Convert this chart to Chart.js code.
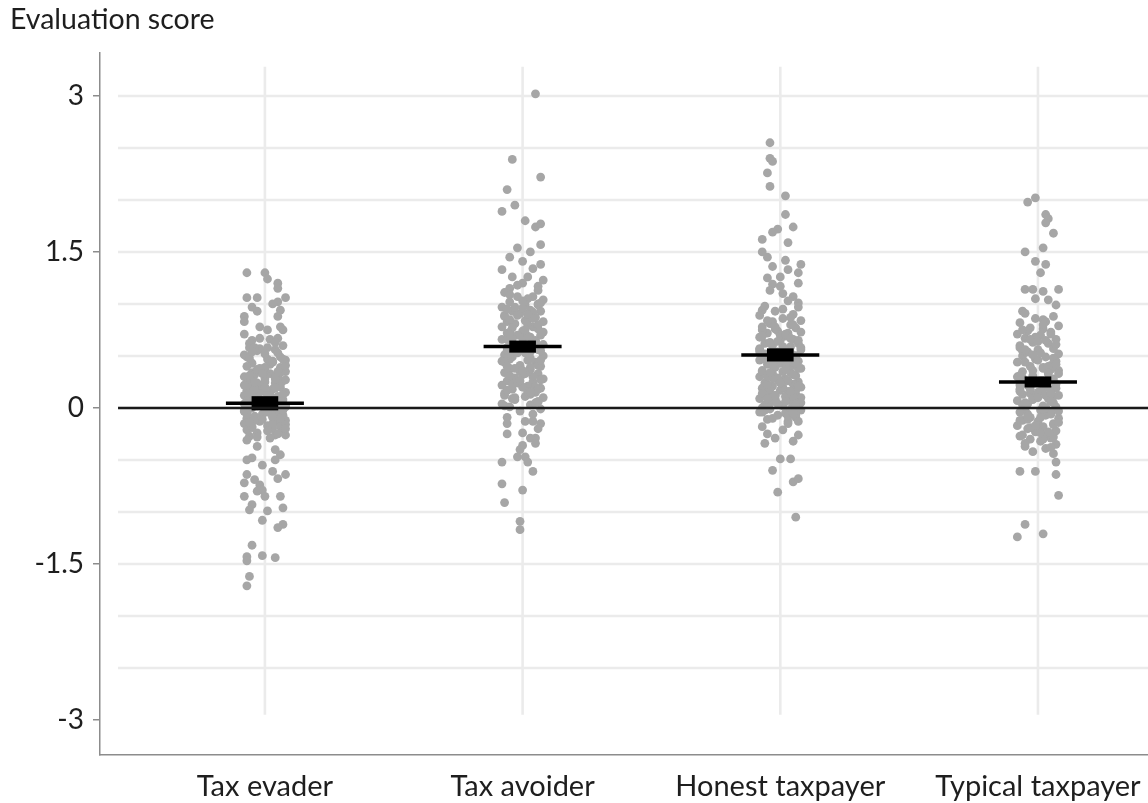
<!DOCTYPE html>
<html>
<head>
<meta charset="utf-8">
<script src="https://cdn.jsdelivr.net/npm/chart.js@4.4.1/dist/chart.umd.min.js"></script>
<style>
  html, body { margin: 0; padding: 0; background: #fff; }
  #wrap { width: 1148px; height: 803px; }
</style>
</head>
<body>
<div id="wrap"><canvas id="scoreChart"></canvas></div>
<script>
const categories = ["Tax evader", "Tax avoider", "Honest taxpayer", "Typical taxpayer"];
const yTicks = [-3, -1.5, 0, 1.5, 3];
const gridValues = [-2.5, -2, -1.5, -1, -0.5, 0, 0.5, 1, 1.5, 2, 2.5, 3];

// group means and standard errors (black markers)
const meanScores = [0.045, 0.59, 0.51, 0.25];
const seScores = [0.065, 0.055, 0.06, 0.05];

// individual evaluation scores, with horizontal jitter (in category units)
const evaderScores = [
  1.30, 1.30, 1.24, 1.20, 1.15, 1.06, 1.06, 1.06, 1.02, 1.00,
  0.97, 0.93, 0.94, 0.88, 0.83, 0.88, 0.78, 0.75, 0.78, 0.75,
  0.67, 0.67, 0.65, 0.58, 0.58, 0.56, 0.49, 0.49,
  0.71, 0.66, 0.62, 0.60, 0.55, 0.53, 0.51, 0.47, 0.46, 0.43,
  0.44, 0.40, 0.39, 0.38, 0.35, 0.34, 0.33, 0.30, 0.31, 0.28,
  0.27, 0.26, 0.24, 0.24, 0.22, 0.20, 0.19, 0.18, 0.17, 0.15,
  0.14, 0.13, 0.12, 0.11, 0.09, 0.08, 0.08, 0.06, 0.05, 0.04,
  0.03, 0.02, 0.01, -0.01, -0.02, -0.03, -0.04, -0.06, -0.07, -0.08,
  -0.09, -0.10, -0.12, -0.13, -0.14, -0.15, -0.17, -0.18, -0.19, -0.20,
  -0.21, -0.23, -0.24, -0.26, -0.27, -0.29, 0.36, 0.29, 0.21, 0.10,
  0.16, 0.00, -0.11, 0.42, 0.32, 0.23, 0.07, -0.05, -0.16, 0.57,
  -0.26, -0.31, -0.37, -0.40, -0.45, -0.48, -0.50, -0.50, -0.55, -0.61,
  -0.64, -0.64, -0.68, -0.69, -0.72, -0.74, -0.79, -0.80, -0.85, -0.85,
  -0.85, -0.93, -0.98, -0.99, -0.96, -1.08, -1.12, -1.15, -1.32, -1.43,
  -1.47, -1.42, -1.44, -1.62, -1.71,
  0.63, 0.58, 0.52, 0.48, 0.45, 0.41, 0.37, 0.34, 0.31, 0.27,
  0.25, 0.22, 0.19, 0.16, 0.13, 0.11, 0.09, 0.06, 0.03, 0.01,
  -0.01, -0.04, -0.06, -0.09, -0.12, -0.15, -0.18, -0.22, -0.25, -0.28,
  0.54, 0.39, 0.28, 0.18, 0.12, 0.04, -0.02, -0.08, -0.14, -0.20,
  0.47, 0.33, 0.20, 0.14, 0.07, 0.02, -0.03, -0.10, 0.25, 0.35
];
const evaderJitter = [
  -0.07, 0.00, 0.01, 0.05, 0.05, -0.07, -0.03, 0.08, 0.05, 0.03,
  -0.05, -0.03, 0.06, -0.08, -0.08, 0.05, -0.02, 0.01, 0.06, 0.07,
  0.05, -0.02, -0.05, -0.06, 0.01, 0.04, 0.06, -0.07,
  -0.08, 0.02, -0.06, 0.07, -0.03, 0.05, -0.08, 0.01, 0.08, -0.05,
  0.03, -0.07, 0.06, -0.02, 0.08, -0.05, 0.02, -0.08, 0.05, 0.00,
  -0.06, 0.07, -0.03, 0.04, -0.08, 0.06, -0.01, 0.03, -0.07, 0.08,
  -0.04, 0.02, -0.08, 0.05, -0.02, 0.07, -0.06, 0.01, 0.04, -0.08,
  0.06, -0.03, 0.08, -0.06, 0.02, -0.08, 0.05, -0.01, 0.07, -0.04,
  0.03, -0.07, 0.08, -0.02, 0.05, -0.08, 0.01, 0.06, -0.05, 0.03,
  -0.07, 0.07, -0.03, 0.04, -0.06, 0.02, 0.00, 0.04, -0.01, -0.03,
  0.00, -0.05, -0.01, 0.02, -0.04, 0.06, -0.07, 0.04, 0.08, -0.02,
  0.08, -0.07, -0.03, 0.04, 0.06, -0.05, -0.07, 0.04, -0.01, 0.03,
  0.08, -0.07, 0.05, -0.04, -0.08, -0.02, -0.01, -0.03, 0.00, -0.08,
  0.06, -0.05, -0.06, 0.01, 0.07, -0.01, 0.07, 0.05, -0.05, -0.07,
  -0.07, -0.01, 0.04, -0.06, -0.07,
  0.04, -0.04, 0.00, -0.06, 0.03, 0.08, -0.03, 0.06, -0.06, 0.08,
  0.00, -0.05, 0.04, -0.02, 0.07, -0.06, 0.03, -0.03, 0.06, -0.05,
  0.05, 0.01, -0.07, 0.06, -0.04, 0.03, -0.05, 0.01, 0.05, -0.03,
  -0.05, 0.00, 0.04, -0.04, 0.01, -0.07, 0.07, 0.03, -0.06, 0.08,
  0.07, -0.01, 0.00, -0.06, -0.03, 0.08, -0.08, 0.06, -0.04, 0.05
];

const avoiderScores = [
  3.02, 2.39, 2.22, 2.10, 1.95, 1.89, 1.80, 1.74, 1.77, 1.57,
  1.54, 1.50, 1.45, 1.41, 1.38, 1.33, 1.34, 1.26, 1.23, 1.26,
  1.20, 1.15, 1.17,
  1.11, 1.07, 1.07, 1.04, 1.02, 0.99, 0.99, 0.97, 0.94, 0.93,
  0.93, 0.91, 0.88, 0.87, 0.86, 0.83, 0.83, 0.81, 0.78, 0.78,
  0.76, 0.74, 0.73, 0.70, 0.70, 0.68, 0.66, 0.65, 0.63, 0.61,
  0.61, 0.58, 0.56, 0.56, 0.54, 0.51, 0.50, 0.49, 0.46, 0.45,
  0.44, 0.41, 0.40, 0.38, 0.37, 0.34, 0.33, 0.32, 0.29, 0.28,
  0.26, 0.25, 0.22, 0.21, 0.19, 0.18, 0.15, 0.14, 0.11, 0.10,
  0.08, 0.06, 0.04, 0.03, 0.01, -0.01, -0.03, -0.06, -0.09, 0.96,
  0.89, 0.80, 0.72, 0.64, 0.59, 0.53, 0.47, 0.42, 0.35, 0.30,
  0.23, 0.16, 0.12, 0.05, 1.00, 0.85, 0.67, 0.55, 0.39, 0.20,
  -0.15, -0.13, -0.13, -0.15, -0.20, -0.25, -0.24, -0.29, -0.29, -0.34,
  -0.36, -0.40, -0.47, -0.47, -0.52, -0.52, -0.61, -0.73, -0.79, -0.91,
  -1.09, -1.17,
  1.18, 1.13, 1.09, 1.05, 1.01, 0.97, 0.92, 0.89, 0.84, 0.80,
  0.77, 0.73, 0.69, 0.66, 0.62, 0.58, 0.55, 0.52, 0.48, 0.44,
  0.41, 0.38, 0.35, 0.31, 0.27, 0.24, 0.20, 0.17, 0.13, 0.09,
  0.06, 0.02, 1.03, 0.95, 0.86, 0.75, 0.67, 0.60, 0.53, 0.46,
  0.40, 0.33, 0.26, 0.18, 0.10, 0.90, 0.71, 0.57, 0.36, 0.15
];
const avoiderJitter = [
  0.05, -0.04, 0.07, -0.06, -0.03, -0.08, 0.01, 0.05, 0.07, 0.07,
  -0.02, 0.03, -0.05, 0.00, 0.07, -0.08, 0.04, -0.04, 0.08, 0.02,
  0.00, -0.05, 0.06,
  -0.07, 0.04, -0.02, 0.08, -0.05, 0.01, 0.06, -0.08, 0.03, -0.04,
  0.07, -0.01, -0.07, 0.05, 0.02, -0.06, 0.08, -0.03, 0.04, -0.08,
  0.06, 0.00, -0.05, 0.07, -0.02, 0.03, -0.08, 0.05, -0.04, 0.08,
  0.01, -0.06, 0.06, -0.02, 0.03, -0.07, 0.08, -0.04, 0.02, -0.08,
  0.05, -0.01, 0.07, -0.05, 0.03, -0.07, 0.06, 0.00, -0.03, 0.08,
  -0.06, 0.04, -0.08, 0.02, 0.07, -0.04, 0.05, -0.07, 0.01, 0.08,
  -0.03, 0.06, -0.08, 0.03, -0.05, 0.07, -0.01, 0.04, -0.06, 0.00,
  -0.02, 0.02, -0.06, 0.05, -0.03, 0.01, -0.05, 0.06, -0.01, 0.04,
  -0.04, 0.02, -0.07, 0.05, 0.06, -0.05, 0.00, -0.06, 0.03, 0.00,
  -0.06, 0.01, 0.04, 0.07, 0.06, -0.06, 0.00, 0.05, 0.03, 0.05,
  0.00, -0.01, -0.02, 0.01, 0.02, -0.08, 0.04, -0.08, 0.00, -0.07,
  -0.01, -0.01,
  -0.02, 0.06, -0.05, 0.02, 0.07, -0.03, 0.04, -0.07, 0.01, 0.06,
  -0.04, 0.08, 0.02, -0.06, 0.05, -0.01, 0.07, -0.05, 0.03, -0.07,
  0.06, -0.03, 0.02, -0.05, 0.07, -0.02, 0.05, -0.06, 0.03, -0.04,
  0.06, -0.07, 0.00, -0.06, 0.04, 0.01, -0.04, 0.05, -0.02, 0.07,
  -0.06, 0.01, -0.01, 0.06, -0.03, 0.02, -0.05, 0.04, 0.00, 0.03
];

const honestScores = [
  2.55, 2.40, 2.37, 2.26, 2.13, 2.04, 1.86, 1.74, 1.72, 1.69,
  1.62, 1.59, 1.50, 1.45, 1.42, 1.38, 1.36, 1.33, 1.30, 1.25,
  1.26, 1.20, 1.19, 1.17, 1.13, 1.10, 1.07, 0.94, 1.01,
  1.03, 0.98, 0.97, 0.93, 0.90, 0.89, 0.86, 0.84, 0.81, 0.80,
  0.78, 0.77, 0.74, 0.73, 0.72, 0.69, 0.68, 0.66, 0.65, 0.62,
  0.62, 0.60, 0.59, 0.57, 0.56, 0.54, 0.53, 0.52, 0.50, 0.48,
  0.48, 0.46, 0.45, 0.43, 0.42, 0.41, 0.39, 0.38, 0.36, 0.35,
  0.34, 0.32, 0.31, 0.30, 0.28, 0.27, 0.25, 0.24, 0.23, 0.21,
  0.20, 0.19, 0.17, 0.16, 0.14, 0.13, 0.12, 0.10, 0.09, 0.07,
  0.06, 0.05, 0.03, 0.02, 0.01, -0.01, -0.02, -0.04, -0.05, -0.07,
  -0.09, -0.11, -0.13, 0.95, 0.83, 0.70, 0.63, 0.55, 0.47, 0.40,
  0.33, 0.26, 0.18, 0.11, 0.04, 0.00, -0.03, 0.87, 0.75, 0.51,
  0.44, 0.29, 0.22, 0.08, -0.06,
  -0.34, -0.21, -0.32, -0.26, -0.49, -0.49, -0.60, -0.71, -0.68, -0.81,
  -1.05, -0.18, -0.25, -0.29, -0.15,
  0.84, 0.80, 0.76, 0.72, 0.69, 0.65, 0.62, 0.59, 0.56, 0.53,
  0.50, 0.47, 0.44, 0.41, 0.38, 0.35, 0.32, 0.29, 0.26, 0.23,
  0.20, 0.17, 0.14, 0.11, 0.08, 0.05, 0.02, -0.01, -0.04, -0.07,
  -0.10, -0.13, 0.71, 0.64, 0.58, 0.49, 0.43, 0.37, 0.30, 0.24,
  0.16, 0.09, 0.03, -0.02, -0.08, 0.78, 0.67, 0.54, 0.46, 0.34,
  0.21, 0.12, 0.06, 0.00, -0.05
];
const honestJitter = [
  -0.04, -0.04, -0.03, -0.05, -0.04, 0.02, 0.02, 0.05, -0.01, -0.03,
  -0.07, 0.03, -0.07, -0.05, 0.02, 0.08, -0.03, 0.03, 0.07, -0.05,
  0.00, 0.07, -0.03, 0.00, -0.04, 0.01, 0.05, -0.07, 0.07,
  0.03, -0.06, 0.07, -0.02, 0.05, -0.08, 0.01, 0.08, -0.04, 0.04,
  -0.07, 0.06, -0.01, 0.08, -0.05, 0.02, -0.08, 0.05, 0.00, -0.06,
  0.07, -0.03, 0.04, -0.08, 0.08, -0.01, 0.02, -0.06, 0.06, -0.04,
  0.03, -0.08, 0.07, 0.00, -0.05, 0.05, -0.02, 0.08, -0.07, 0.01,
  0.04, -0.04, 0.06, -0.08, 0.02, -0.01, 0.07, -0.06, 0.05, -0.03,
  0.08, -0.07, 0.00, 0.03, -0.05, 0.06, -0.02, 0.08, -0.08, 0.04,
  -0.03, 0.07, -0.06, 0.01, 0.05, -0.04, 0.08, -0.07, 0.02, -0.01,
  0.06, -0.05, 0.03, 0.01, -0.03, 0.00, -0.04, 0.02, -0.02, 0.03,
  -0.03, 0.01, -0.04, 0.02, -0.01, -0.07, 0.05, 0.04, -0.07, 0.00,
  0.05, -0.03, 0.06, -0.02, 0.04,
  -0.06, 0.01, 0.05, 0.07, 0.00, 0.04, -0.03, 0.05, 0.07, -0.01,
  0.06, -0.07, -0.05, -0.02, 0.03,
  -0.05, 0.05, -0.02, 0.03, -0.07, 0.07, -0.04, 0.01, -0.08, 0.04,
  0.06, -0.06, 0.02, -0.03, 0.07, -0.07, 0.05, -0.01, 0.03, -0.05,
  0.01, 0.06, -0.07, 0.05, -0.02, 0.08, -0.05, 0.04, -0.08, 0.06,
  -0.03, 0.07, 0.02, -0.01, 0.08, -0.07, 0.06, 0.02, -0.05, 0.00,
  0.04, -0.05, 0.06, -0.06, 0.03, -0.02, 0.04, -0.08, 0.00, -0.04,
  0.07, -0.02, 0.02, -0.05, 0.05
];

const typicalScores = [
  1.98, 2.02, 1.86, 1.82, 1.78, 1.68, 1.50, 1.54, 1.41, 1.38,
  1.30, 1.14, 1.14, 1.14, 1.12, 1.05, 1.04, 0.99, 0.93,
  0.91, 0.88, 0.86, 0.83, 0.82, 0.79, 0.77, 0.76, 0.73, 0.71,
  0.70, 0.67, 0.66, 0.63, 0.62, 0.60, 0.57, 0.56, 0.54, 0.52,
  0.50, 0.49, 0.47, 0.45, 0.44, 0.41, 0.40, 0.38, 0.36, 0.35,
  0.33, 0.31, 0.30, 0.28, 0.26, 0.25, 0.23, 0.21, 0.20, 0.18,
  0.17, 0.15, 0.13, 0.12, 0.10, 0.09, 0.07, 0.05, 0.04, 0.02,
  0.01, -0.01, -0.02, -0.04, -0.05, -0.07, -0.09, -0.10, -0.12, -0.13,
  -0.15, -0.17, -0.18, -0.20, -0.22, -0.23, -0.25, -0.27, -0.29, -0.30,
  -0.32, -0.35, -0.37, -0.39, -0.42, -0.44, 0.85, 0.74, 0.65, 0.55,
  0.46, 0.37, 0.27, 0.16, 0.08, -0.03, -0.11, -0.21, 0.68, 0.39,
  0.14, -0.06, 0.00, 0.11, 0.22,
  -0.61, -0.61, -0.64, -0.52, -0.84, -1.12, -1.24, -1.21,
  0.80, 0.75, 0.71, 0.66, 0.61, 0.58, 0.53, 0.48, 0.44, 0.40,
  0.36, 0.33, 0.29, 0.26, 0.22, 0.19, 0.16, 0.12, 0.09, 0.06,
  0.03, 0.00, -0.03, -0.06, -0.09, -0.12, -0.16, -0.19, -0.23, -0.26,
  -0.30, -0.34, -0.38, 0.64, 0.51, 0.42, 0.31, 0.24, 0.14, 0.05,
  -0.01, -0.08, -0.14, -0.24, 0.56, 0.34, 0.18, 0.10, -0.17, -0.28
];
const typicalJitter = [
  -0.04, -0.01, 0.03, 0.04, 0.03, 0.06, -0.05, 0.02, -0.01, 0.03,
  0.01, -0.05, -0.02, 0.08, 0.02, -0.01, 0.04, 0.07, -0.06,
  -0.05, 0.06, -0.01, 0.03, -0.07, 0.08, -0.03, 0.02, 0.05, -0.08,
  0.01, -0.05, 0.07, -0.02, 0.04, -0.07, 0.06, 0.00, -0.04, 0.08,
  -0.06, 0.03, -0.01, 0.07, -0.08, 0.05, -0.03, 0.02, 0.08, -0.06,
  0.04, -0.02, -0.08, 0.06, 0.01, -0.05, 0.07, -0.03, 0.03, -0.07,
  0.05, 0.00, -0.06, 0.08, -0.02, 0.04, -0.08, 0.06, -0.04, 0.02,
  0.07, -0.05, 0.01, -0.07, 0.05, 0.03, -0.03, 0.08, -0.06, 0.00,
  0.06, -0.08, 0.02, -0.04, 0.07, -0.01, 0.04, -0.07, 0.05, -0.03,
  0.01, 0.07, -0.05, 0.03, -0.02, 0.06, 0.02, -0.04, 0.03, -0.06,
  0.00, 0.05, -0.06, 0.01, -0.02, 0.04, -0.04, 0.00, -0.01, 0.02,
  -0.03, 0.05, 0.03, 0.06, -0.07,
  -0.07, -0.01, 0.07, 0.07, 0.08, -0.05, -0.08, 0.02,
  0.02, -0.06, 0.05, -0.03, 0.07, -0.07, 0.01, 0.06, -0.05, 0.04,
  -0.02, 0.08, -0.06, 0.02, -0.04, 0.07, -0.07, 0.03, -0.02, 0.05,
  -0.06, 0.03, 0.08, -0.04, 0.01, -0.07, 0.06, -0.03, 0.04, -0.06,
  0.02, -0.05, 0.05, 0.00, -0.02, 0.07, -0.07, 0.03, 0.05, -0.05,
  0.02, -0.04, 0.08, 0.01, -0.05, 0.04, -0.03, 0.00, -0.01, 0.06
];

const groupScores = [evaderScores, avoiderScores, honestScores, typicalScores];
const groupJitter = [evaderJitter, avoiderJitter, honestJitter, typicalJitter];

const FONT = "Lato, 'Open Sans', sans-serif";
const TEXT = "#1e1e1e";
const AXIS = "#8c8c8c";

// light panel grid + the black zero reference line
const panelGrid = {
  id: "panelGrid",
  beforeDatasetsDraw(chart, args, opts) {
    const {ctx, chartArea, scales: {x, y}} = chart;
    const left = x.getPixelForValue(opts.left);
    const top = y.getPixelForValue(opts.top);
    const bottom = y.getPixelForValue(opts.bottom);
    ctx.save();
    ctx.strokeStyle = opts.color;
    ctx.lineWidth = opts.width;
    gridValues.forEach(v => {
      const py = y.getPixelForValue(v);
      ctx.beginPath();
      ctx.moveTo(left, py);
      ctx.lineTo(chartArea.right, py);
      ctx.stroke();
    });
    categories.forEach((c, i) => {
      const px = x.getPixelForValue(i + 1);
      ctx.beginPath();
      ctx.moveTo(px, top);
      ctx.lineTo(px, bottom);
      ctx.stroke();
    });
    ctx.restore();
  },
  afterDatasetsDraw(chart, args, opts) {
    const {ctx, chartArea, scales: {x, y}} = chart;
    const py = y.getPixelForValue(0);
    ctx.save();
    ctx.strokeStyle = opts.zeroColor;
    ctx.lineWidth = opts.zeroWidth;
    ctx.beginPath();
    ctx.moveTo(x.getPixelForValue(opts.left), py);
    ctx.lineTo(chartArea.right, py);
    ctx.stroke();
    ctx.restore();
  }
};

const pointSets = groupScores.map((scores, g) => ({
  type: "scatter",
  data: scores.map((v, i) => ({x: g + 1 + groupJitter[g][i], y: v})),
  backgroundColor: "#a6a6a6",
  borderWidth: 0,
  pointRadius: 4.4,
  order: 3
}));

new Chart("scoreChart", {
  type: "scatter",
  data: {
    datasets: [
      ...pointSets,
      {
        type: "bar",
        data: meanScores.map((m, i) => ({x: i + 1, y: [m - seScores[i], m + seScores[i]]})),
        backgroundColor: "#000",
        barThickness: 26,
        order: 2
      },
      {
        type: "scatter",
        data: meanScores.map((m, i) => ({x: i + 1, y: m})),
        pointStyle: "line",
        pointRadius: 39,
        borderColor: "#000",
        borderWidth: 3.5,
        order: 1
      }
    ]
  },
  options: {
    responsive: true,
    maintainAspectRatio: false,
    animation: false,
    layout: {autoPadding: false, padding: {left: 10, right: 0, top: 0, bottom: 0}},
    plugins: {
      legend: {display: false},
      tooltip: {enabled: false},
      title: {
        display: true,
        text: "Evaluation score",
        align: "start",
        color: TEXT,
        font: {family: FONT, size: 28.5, weight: "normal"},
        padding: {top: 3, bottom: 15.8}
      },
      panelGrid: {
        left: 0.43, top: 3.28, bottom: -2.95,
        color: "#ebebeb", width: 2.6,
        zeroColor: "#1a1a1a", zeroWidth: 2.4
      }
    },
    scales: {
      x: {
        type: "linear",
        offset: false,
        min: 0.36,
        max: 4.427,
        afterFit: s => { s.height = 48; s.paddingLeft = 0; s.paddingRight = 0; },
        afterBuildTicks: s => { s.ticks = categories.map((c, i) => ({value: i + 1})); },
        grid: {display: true, offset: false, drawOnChartArea: false, drawTicks: false},
        border: {display: true, color: AXIS, width: 1.5},
        ticks: {
          padding: 14,
          color: TEXT,
          font: {family: FONT, size: 29},
          maxRotation: 0,
          autoSkip: false,
          callback: v => categories[v - 1]
        }
      },
      y: {
        min: -3.337,
        max: 3.413,
        afterFit: s => { s.width = 90; },
        afterBuildTicks: s => { s.ticks = yTicks.map(v => ({value: v})); },
        grid: {drawOnChartArea: false, drawTicks: true, tickLength: 7, color: AXIS, lineWidth: 1.5},
        border: {display: true, color: AXIS, width: 1.5},
        ticks: {
          padding: 9,
          color: TEXT,
          font: {family: FONT, size: 28},
          callback: v => String(v)
        }
      }
    }
  },
  plugins: [panelGrid]
});
</script>
</body>
</html>
